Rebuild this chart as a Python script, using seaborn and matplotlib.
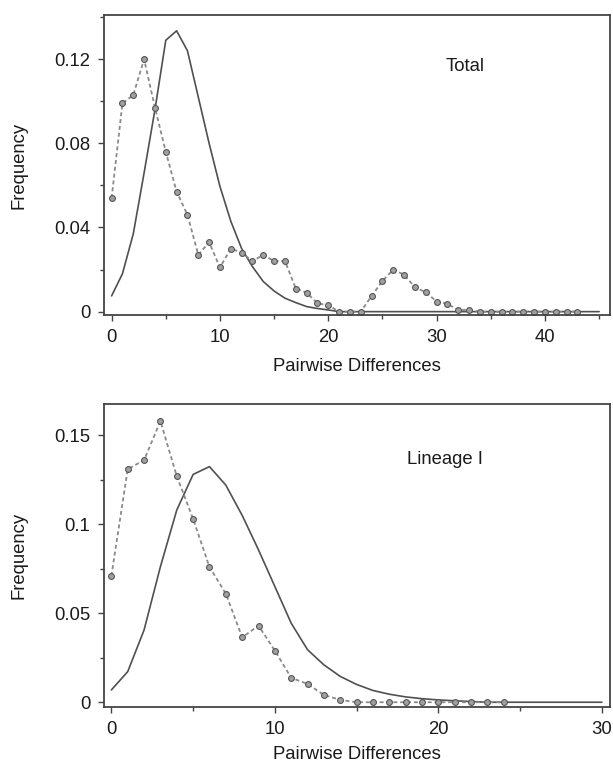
import numpy as np
import pandas as pd
import matplotlib
matplotlib.use("Agg")
import matplotlib.pyplot as plt
import seaborn as sns
from matplotlib.ticker import MultipleLocator, FuncFormatter

# Top panel: Total
total_obs_x = list(range(0, 44))
total_obs = [0.054, 0.099, 0.103, 0.120, 0.097, 0.076, 0.057, 0.046, 0.027, 0.033,
             0.021, 0.030, 0.028, 0.024, 0.027, 0.024, 0.024, 0.011, 0.009, 0.004,
             0.003, 0.000, 0.000, 0.000, 0.0075, 0.0146, 0.020, 0.0175, 0.0116, 0.0092,
             0.0048, 0.0037, 0.0008, 0.0008, 0, 0, 0, 0, 0, 0,
             0, 0, 0, 0]
total_exp_x = list(range(0, 46))
total_exp = [0.0075, 0.018, 0.037, 0.066, 0.096, 0.129, 0.1335, 0.124, 0.102, 0.080,
             0.0595, 0.043, 0.030, 0.0214, 0.0143, 0.0098, 0.0064, 0.0043, 0.0024, 0.0015,
             0.0008] + [0.0] * 25

# Bottom panel: Lineage I
lin_obs_x = list(range(0, 25))
lin_obs = [0.071, 0.131, 0.136, 0.158, 0.127, 0.103, 0.076, 0.061, 0.0365, 0.043,
           0.029, 0.0137, 0.0103, 0.0041, 0.0013, 0, 0, 0, 0, 0,
           0, 0, 0, 0, 0]
lin_exp_x = list(range(0, 31))
lin_exp = [0.0069, 0.0172, 0.0406, 0.0762, 0.108, 0.128, 0.1324, 0.122, 0.105, 0.0856,
           0.065, 0.0444, 0.0295, 0.021, 0.0145, 0.010, 0.0066, 0.0045, 0.003, 0.002,
           0.0013, 0.0008, 0.0004] + [0.0] * 8

sns.set_style("ticks")
plt.rcParams['font.family'] = ['Liberation Sans', 'DejaVu Sans']
plt.rcParams['text.color'] = '#1a1a1a'
plt.rcParams['axes.labelcolor'] = '#1a1a1a'
plt.rcParams['xtick.labelcolor'] = '#1a1a1a'
plt.rcParams['ytick.labelcolor'] = '#1a1a1a'
fs = 13.3

fig = plt.figure(figsize=(6.13, 7.62), dpi=100)
ax1 = fig.add_axes([0.1697, 0.5866, 0.8254, 0.3937])
ax2 = fig.add_axes([0.1697, 0.0726, 0.8254, 0.3968])

line_col = "#505050"
obs_kw = dict(color="#8a8a8a", linestyle=(0, (2.2, 1.6)), linewidth=1.3,
              marker="o", markersize=4.2, markerfacecolor="#a0a0a0",
              markeredgecolor="#555555", markeredgewidth=0.8)


def panel(ax, ex, ey, ox, oy, label, xlim, ylim, xmaj, ymaj, ymin, lx, ly, xpad):
    sns.lineplot(x=ex, y=ey, ax=ax, color=line_col, linewidth=1.2)
    sns.lineplot(x=ox, y=oy, ax=ax, **obs_kw)
    ax.set_xlim(*xlim)
    ax.set_ylim(*ylim)
    ax.xaxis.set_major_locator(MultipleLocator(xmaj))
    ax.xaxis.set_minor_locator(MultipleLocator(xmaj / 2))
    ax.yaxis.set_major_locator(MultipleLocator(ymaj))
    ax.yaxis.set_minor_locator(MultipleLocator(ymin))
    ax.yaxis.set_major_formatter(FuncFormatter(lambda v, p: f"{v:g}" if abs(v) > 1e-9 else "0"))
    ax.tick_params(which="major", labelsize=fs, length=4, width=1, color="#444444", pad=6)
    ax.tick_params(which="minor", length=3, width=1, color="#444444")
    for s in ax.spines.values():
        s.set_color("#444444")
        s.set_linewidth(1.3)
    ax.set_xlabel("Pairwise Differences", fontsize=fs, labelpad=xpad)
    ax.set_ylabel("Frequency", fontsize=fs, labelpad=19)
    ax.text(lx, ly, label, transform=ax.transAxes, fontsize=fs, ha="center", va="center")


panel(ax1, total_exp_x, total_exp, total_obs_x, total_obs, "Total",
      (-0.7, 46), (-0.0016, 0.141), 10, 0.04, 0.02, 0.713, 0.827, 9)
panel(ax2, lin_exp_x, lin_exp, lin_obs_x, lin_obs, "Lineage I",
      (-0.45, 30.5), (-0.0025, 0.1674), 10, 0.05, 0.025, 0.674, 0.816, 6)

fig.savefig("out.png", dpi=100)
